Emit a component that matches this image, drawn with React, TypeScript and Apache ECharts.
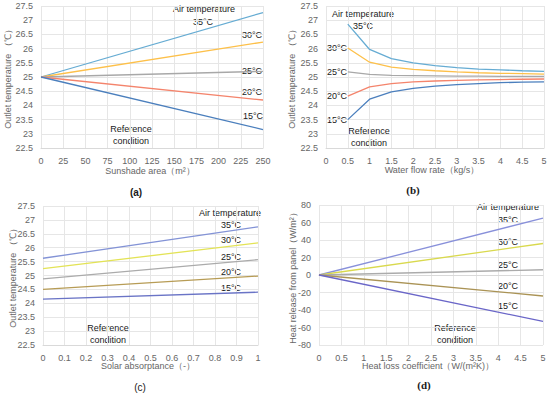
import React, { useEffect, useRef } from "react";
import * as echarts from "echarts";

// ---- Data ----
const seriesNames = ["35°C", "30°C", "25°C", "20°C", "15°C"];

// (a) Sunshade area (m2)
const aX = [0, 250];
const aY = [
  [25, 27.27],
  [25, 26.23],
  [25, 25.2],
  [25, 24.19],
  [25, 23.15],
];

// (b) Water flow rate (kg/s)
const bX = [0.5, 1, 1.5, 2, 2.5, 3, 3.5, 4, 4.5, 5];
const bY = [
  [26.86, 25.97, 25.65, 25.5, 25.4, 25.33, 25.28, 25.25, 25.22, 25.2],
  [26.02, 25.52, 25.35, 25.27, 25.22, 25.18, 25.15, 25.13, 25.12, 25.1],
  [25.18, 25.09, 25.06, 25.05, 25.04, 25.03, 25.03, 25.02, 25.02, 25.02],
  [24.33, 24.65, 24.77, 24.83, 24.86, 24.88, 24.9, 24.91, 24.92, 24.93],
  [23.5, 24.22, 24.48, 24.6, 24.68, 24.73, 24.77, 24.8, 24.82, 24.83],
];

// (c) Solar absorptance (-)
const cX = [0, 1];
const cY = [
  [25.62, 26.75],
  [25.25, 26.17],
  [24.88, 25.57],
  [24.5, 24.98],
  [24.15, 24.4],
];

// (d) Heat loss coefficient
const dX = [0, 5];
const dY = [
  [0, 65],
  [0, 36],
  [0, 6],
  [0, -24],
  [0, -53],
];

const colorsAB = ["#66acd3", "#fdc04a", "#a8a8a8", "#f4846c", "#4b7fbd"];
const colorsC = ["#8393d6", "#e3e356", "#ababab", "#b79c55", "#6a74c6"];
const colorsD = ["#8890da", "#d9d94e", "#ababab", "#aa9355", "#6a66c8"];

const FONT = "Liberation Sans, Arial, sans-serif";
const AXIS_COLOR = "#666666";
const GRID_COLOR = "#e6e6e6";

function txt(x: number, y: number, text: string, opts: any = {}) {
  return {
    type: "text",
    x,
    y,
    style: {
      text,
      fontSize: opts.fontSize ?? 9,
      fontFamily: opts.fontFamily ?? FONT,
      fontWeight: opts.fontWeight ?? "normal",
      fill: opts.fill ?? "#1a1a1a",
      align: opts.align ?? "center",
      verticalAlign: "middle",
    },
    rotation: opts.rotation ?? 0,
  };
}

export default function App() {
  const ref = useRef<HTMLDivElement>(null);

  useEffect(() => {
    if (!ref.current) return;
    const chart = echarts.init(ref.current, null, { renderer: "svg" });

    const grids = [
      { left: 41, top: 6, width: 222, height: 142 },
      { left: 326, top: 6, width: 218, height: 142 },
      { left: 43, top: 206, width: 215, height: 139 },
      { left: 319, top: 205, width: 224, height: 140 },
    ];

    const axisLabel = (fmt?: (v: number) => string, margin = 7) => ({
      fontSize: 9,
      fontFamily: FONT,
      color: AXIS_COLOR,
      margin,
      formatter: fmt,
    });
    const commonAxis = {
      axisLine: { show: true, lineStyle: { color: "#d9d9d9" } },
      axisTick: { show: false },
      splitLine: { show: true, lineStyle: { color: GRID_COLOR, width: 1 } },
    };

    const xAxes = [
      { min: 0, max: 250, interval: 25 },
      { min: 0, max: 5, interval: 0.5 },
      { min: 0, max: 1, interval: 0.1, fmt: (v: number) => String(+v.toFixed(1)) },
      { min: 0, max: 5, interval: 0.5 },
    ].map((a, i) => ({
      type: "value",
      gridIndex: i,
      min: a.min,
      max: a.max,
      interval: a.interval,
      ...commonAxis,
      axisLabel: axisLabel(a.fmt, 8),
    }));

    const yAxes = [
      { min: 22.5, max: 27.5, interval: 0.5 },
      { min: 22.5, max: 27.5, interval: 0.5 },
      { min: 22.5, max: 27.5, interval: 0.5 },
      { min: -80, max: 80, interval: 20 },
    ].map((a, i) => ({
      type: "value",
      gridIndex: i,
      min: a.min,
      max: a.max,
      interval: a.interval,
      ...commonAxis,
      axisLine: { show: false },
      axisLabel: axisLabel(undefined, 8),
    }));

    const series: any[] = [];
    const addSet = (idx: number, xs: number[], ys: number[][], colors: string[]) => {
      ys.forEach((row, k) => {
        series.push({
          type: "line",
          name: seriesNames[k],
          xAxisIndex: idx,
          yAxisIndex: idx,
          data: xs.map((x, j) => [x, row[j]]),
          showSymbol: false,
          symbol: "none",
          lineStyle: { color: colors[k], width: 1.3 },
          z: 3,
        });
      });
    };
    addSet(0, aX, aY, colorsAB);
    addSet(1, bX, bY, colorsAB);
    addSet(2, cX, cY, colorsC);
    addSet(3, dX, dY, colorsD);

    const graphic: any[] = [
      // (a)
      txt(204, 9, "Air temperature"),
      txt(203, 22, "35°C"),
      txt(252, 35, "30°C"),
      txt(252, 71, "25°C"),
      txt(252, 92, "20°C"),
      txt(253, 116, "15°C"),
      txt(131, 129, "Reference"),
      txt(131, 141, "condition"),
      txt(150, 171, "Sunshade area（m²）", { fill: AXIS_COLOR }),
      txt(8, 77, "Outlet temperature （℃）", { fill: AXIS_COLOR, rotation: Math.PI / 2 }),
      txt(136, 192, "(a)", { fontWeight: "bold", fontSize: 10 }),
      // (b)
      txt(363, 14, "Air temperature"),
      txt(363, 26, "35°C"),
      txt(337, 48, "30°C"),
      txt(337, 72, "25°C"),
      txt(337, 96, "20°C"),
      txt(337, 120, "15°C"),
      txt(369, 131, "Reference"),
      txt(369, 143, "condition"),
      txt(432, 170, "Water flow rate（kg/s）", { fill: AXIS_COLOR }),
      txt(292, 77, "Outlet temperature （℃）", { fill: AXIS_COLOR, rotation: Math.PI / 2 }),
      txt(413, 190, "(b)", { fontWeight: "bold", fontSize: 11, fontFamily: "Liberation Serif, serif" }),
      // (c)
      txt(230, 213, "Air temperature"),
      txt(231, 225, "35°C"),
      txt(231, 240, "30°C"),
      txt(231, 257, "25°C"),
      txt(231, 272, "20°C"),
      txt(231, 288, "15°C"),
      txt(108, 328, "Reference"),
      txt(108, 340, "condition"),
      txt(148, 366, "Solar absorptance（-）", { fill: AXIS_COLOR }),
      txt(13, 276, "Outlet temperature （℃）", { fill: AXIS_COLOR, rotation: Math.PI / 2 }),
      txt(140, 387, "(c)", { fontSize: 10 }),
      // (d)
      txt(508, 207, "Air temperature"),
      txt(508, 220, "35°C"),
      txt(508, 242, "30°C"),
      txt(508, 265, "25°C"),
      txt(508, 286, "20°C"),
      txt(508, 306, "15°C"),
      txt(455, 328, "Reference"),
      txt(455, 340, "condition"),
      txt(428, 366, "Heat loss coefficient（W/(m²K)）", { fill: AXIS_COLOR }),
      txt(293, 276, "Heat release from panel（W/m²）", { fill: AXIS_COLOR, rotation: Math.PI / 2 }),
      txt(424, 385, "(d)", { fontWeight: "bold", fontSize: 11, fontFamily: "Liberation Serif, serif" }),
    ];

    chart.setOption({
      animation: false,
      backgroundColor: "#ffffff",
      grid: grids.map((g) => ({ ...g, containLabel: false, show: false })),
      xAxis: xAxes,
      yAxis: yAxes,
      series,
      graphic,
    });

    return () => chart.dispose();
  }, []);

  return (
    <div
      ref={ref}
      style={{ position: "absolute", left: 0, top: 0, width: 550, height: 394 }}
    />
  );
}
